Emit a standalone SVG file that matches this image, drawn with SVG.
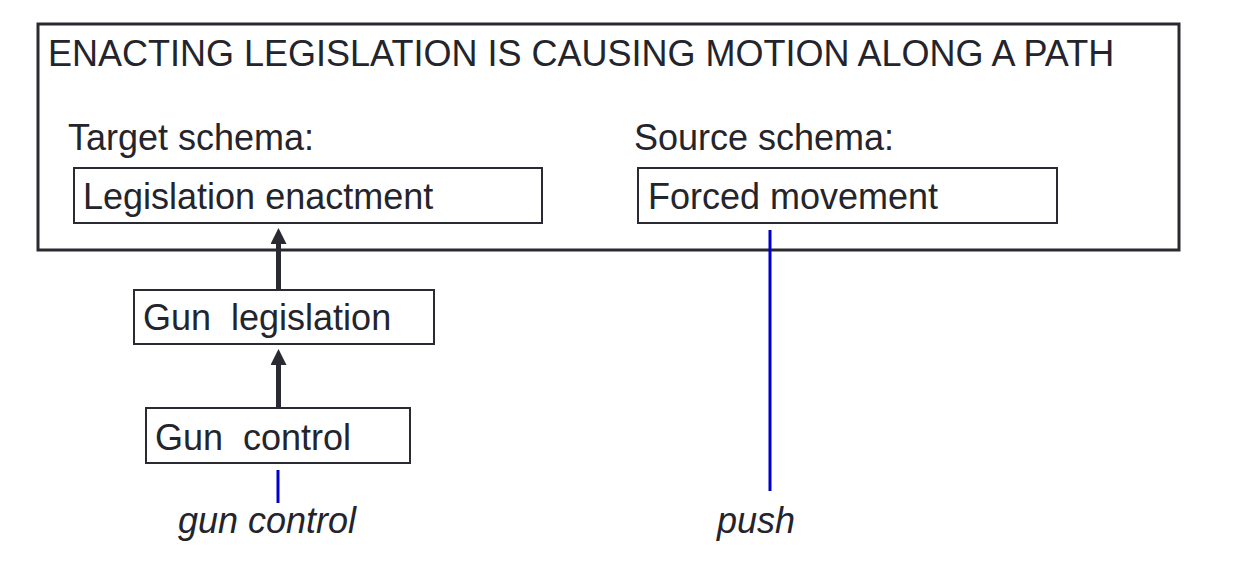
<svg xmlns="http://www.w3.org/2000/svg" width="1256" height="586" viewBox="0 0 1256 586">
<style>
text{font-family:"Liberation Sans",Arial,sans-serif;font-size:36px;fill:#24242c}
.it{font-style:italic}
.box{fill:#fff;stroke:#2a2a32;stroke-width:2}
.outer{fill:#fff;stroke:#2a2a32;stroke-width:3}
.arr{stroke:#2a2a32;stroke-width:5;fill:none}
.blue{stroke:#0000cc;stroke-width:3;fill:none}
</style>
<defs>
<marker id="ah" viewBox="0 0 10 10" refX="0" refY="5" markerWidth="16" markerHeight="16" orient="auto" markerUnits="userSpaceOnUse">
<path d="M0,0 L10,5 L0,10 z" fill="#2a2a32"/>
</marker>
</defs>
<rect width="1256" height="586" fill="#fff"/>
<g id="frame">
<rect class="outer" x="38" y="24" width="1141" height="226"/>
<text x="48" y="66">ENACTING LEGISLATION IS CAUSING MOTION ALONG A PATH</text>
<text x="68" y="150">Target schema:</text>
<text x="634" y="150">Source schema:</text>
</g>
<g id="legislation-enactment">
<rect class="box" x="74" y="168" width="468" height="55"/>
<text x="83" y="209">Legislation enactment</text>
</g>
<g id="forced-movement">
<rect class="box" x="638" y="168" width="419" height="55"/>
<text x="648" y="209">Forced movement</text>
</g>
<g id="gun-legislation">
<rect class="box" x="134" y="290" width="300" height="54"/>
<text x="143" y="330" xml:space="preserve">Gun  legislation</text>
</g>
<g id="gun-control">
<rect class="box" x="146" y="408" width="264" height="55"/>
<text x="155" y="450" xml:space="preserve">Gun  control</text>
</g>
<g id="word-gun-control">
<text class="it" x="178" y="533">gun control</text>
</g>
<g id="word-push">
<text class="it" x="717" y="533">push</text>
</g>
<g id="connectors">
<line class="arr" x1="278.5" y1="290" x2="278.5" y2="244" marker-end="url(#ah)"/>
<line class="arr" x1="278.5" y1="408" x2="278.5" y2="365" marker-end="url(#ah)"/>
<line class="blue" x1="278" y1="470" x2="278" y2="503"/>
<line class="blue" x1="770" y1="230" x2="770" y2="491"/>
</g>
</svg>
